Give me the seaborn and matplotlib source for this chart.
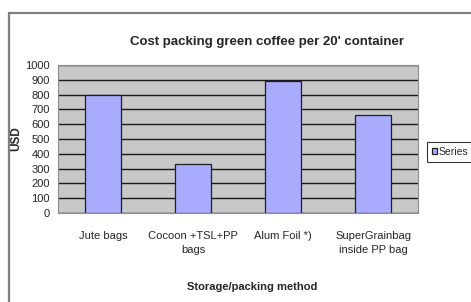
import numpy as np
import pandas as pd
import matplotlib
matplotlib.use("Agg")
import matplotlib.pyplot as plt
import seaborn as sns
from matplotlib.patches import Rectangle

methods = ["Jute bags", "Cocoon +TSL+PP\nbags", "Alum Foil *)", "SuperGrainbag\ninside PP bag"]
costs = [800, 333, 890, 665]
series_name = "Series"

df = pd.DataFrame({"method": methods, "cost": costs})

sns.set_style("white")
plt.rcParams["font.family"] = ["Liberation Sans", "DejaVu Sans"]

fig = plt.figure(figsize=(4.71, 3.02), dpi=100)
ax = fig.add_axes([58 / 471, 89 / 302, 360 / 471, 148 / 302])
ax.set_facecolor("#c8c8c8")

sns.barplot(
    data=df, x="method", y="cost", ax=ax,
    color="#a9abff", edgecolor="#202020", linewidth=0.9,
    width=0.39, saturation=1, label=series_name,
)

ax.set_ylim(0, 1000)
ax.set_xlim(-0.5, 3.5)
ax.set_yticks(np.arange(0, 1001, 100))
ax.yaxis.grid(True, color="#1a1a1a", linewidth=1.0)
ax.set_axisbelow(True)

ax.tick_params(axis="y", length=4, width=0.8, color="#444444", pad=2, labelsize=8)
ax.set_xticks(range(len(methods)))
ax.set_xticklabels(methods, fontsize=8, linespacing=1.45)
ax.set_xticks([-0.5, 0.5, 1.5, 2.5, 3.5], minor=True)
ax.tick_params(axis="x", which="major", length=0, pad=13)
ax.tick_params(axis="x", which="minor", length=4, width=0.8, color="#444444")

for s in ax.spines.values():
    s.set_color("#8c8c8c")
    s.set_linewidth(0.8)

ax.set_xlabel("Storage/packing method", fontsize=8, fontweight="bold")
ax.xaxis.set_label_coords((252 - 58) / 360, -(282 - 213) / 148)
ax.set_ylabel("USD", fontsize=8.5, fontweight="bold")
ax.yaxis.set_label_coords(-(58 - 22) / 360, 0.5)
fig.text(267 / 471, 1 - 42 / 302, "Cost packing green coffee per 20' container",
         ha="center", va="center", fontsize=9.5, fontweight="bold")

leg = ax.legend(loc="center left", bbox_to_anchor=(427 / 471, 1 - 152 / 302),
                bbox_transform=fig.transFigure, frameon=True, fancybox=False,
                fontsize=7.5, handlelength=0.5, handleheight=0.5, handletextpad=0.15,
                borderpad=0.45, borderaxespad=0)
leg.get_frame().set_edgecolor("#000000")
leg.get_frame().set_linewidth(0.8)

fig.patches.append(Rectangle((9 / 471, -0.1), 1.2, 1 - 13 / 302 + 0.1,
                             transform=fig.transFigure, fill=False,
                             edgecolor="#808080", linewidth=1.6, clip_on=False))

fig.savefig("out.png", dpi=100)
